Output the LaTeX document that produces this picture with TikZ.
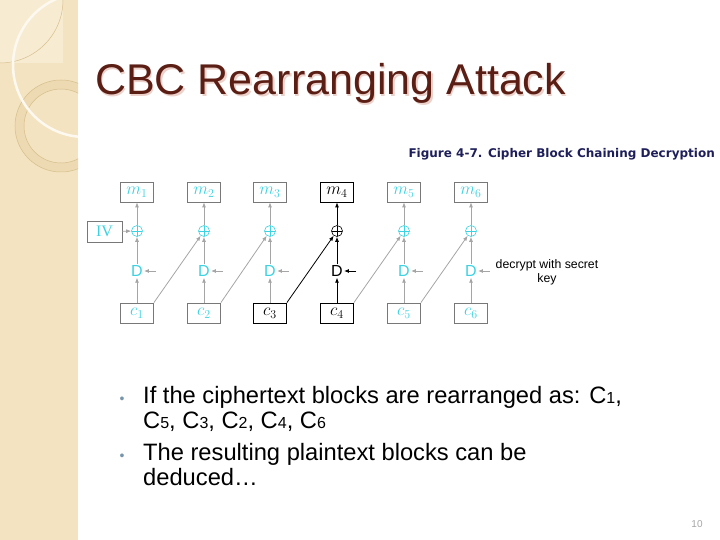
\documentclass[tikz,border=0pt]{standalone}
\usepackage{fontspec}
\setmainfont{Liberation Sans}
\newfontfamily\capfont{DejaVu Sans}
\newfontfamily\ivfont{Liberation Serif}
\usetikzlibrary{arrows.meta}
\definecolor{strip}{RGB}{243,227,192}
\definecolor{stripdark}{RGB}{237,218,178}
\definecolor{striplite}{RGB}{247,236,210}
\definecolor{ringline}{RGB}{214,190,140}
\definecolor{titlebrown}{RGB}{90,30,20}
\definecolor{titleshade}{RGB}{236,208,202}
\definecolor{capnavy}{RGB}{30,30,90}
\definecolor{lblue}{RGB}{60,210,225}
\definecolor{boxgrey}{RGB}{120,120,120}
\definecolor{arrgrey}{RGB}{165,165,165}
\definecolor{dotblue}{RGB}{120,150,170}
\newcommand{\smalldig}[1]{{\fontsize{16}{16}\selectfont #1}}
\newcommand{\titletext}{CBC Rearranging Attack}
\tikzstyle{block}=[rectangle,minimum width=33pt,minimum height=20pt,inner sep=0pt,line width=0.8pt,font=\fontsize{17.28}{17.28}\selectfont]
\tikzstyle{litebox}=[block,draw=boxgrey,text=lblue]
\tikzstyle{darkbox}=[block,draw=black,text=black]
\tikzstyle{xor}=[circle,draw,inner sep=0pt,minimum size=11pt,line width=0.6pt,
  path picture={\draw[line width=0.6pt] (path picture bounding box.north) -- (path picture bounding box.south)
    (path picture bounding box.west) -- (path picture bounding box.east);}]
\tikzstyle{dec}=[inner sep=1pt,font=\fontsize{16}{16}\selectfont]
\tikzstyle{edge}=[draw,line width=0.8pt,-{Latex[length=5pt,width=4pt]}]
\tikzstyle{bullettext}=[anchor=base west,inner sep=0pt,font=\fontsize{23.7}{23.7}\selectfont]
\tikzstyle{dot}=[anchor=base,inner sep=0pt,text=dotblue,font=\fontsize{14}{14}\selectfont]

\begin{document}
\begin{tikzpicture}[x=1pt,y=-1pt]
\useasboundingbox (0,0) rectangle (720,540);

% left strip
\fill[strip] (0,0) rectangle (78,540);
\begin{scope}
  \clip (0,0) rectangle (78,540);
  \fill[striplite] (0,0) rectangle (63,63);
  \draw[ringline,line width=0.5pt] (63,0) arc[start angle=0,end angle=-90,radius=63pt];
  \fill[stripdark,even odd rule] (61,126) circle[radius=46pt] (61,126) circle[radius=37pt];
  \draw[ringline,line width=0.5pt] (61,126) circle[radius=46pt] (61,126) circle[radius=37pt];
  \draw[white!70!striplite,line width=2.5pt] (85,65) circle[radius=72pt];
\end{scope}

% title with its shade
\node[anchor=base west,inner sep=0pt,text=titlebrown,font=\fontsize{43}{43}\selectfont] (title) at (95,95)
  {\makebox[0pt][l]{\raisebox{-1.5pt}[0pt][0pt]{\hspace{1.5pt}\color{titleshade}\titletext}}\titletext};

% figure caption
\node[anchor=base east,inner sep=0pt,text=capnavy,font=\capfont\bfseries\fontsize{12}{12}\selectfont] (cap) at (715,158) {Figure 4-7. Cipher Block Chaining Decryption};

% blocks
\foreach \x/\i/\sty in {137/1/litebox,204/2/litebox,270/3/litebox,337/4/darkbox,404/5/litebox,471/6/litebox}
  \node[\sty] (m\i) at (\x,192) {$m_{\i}$};

\foreach \x/\i/\col in {137/1/lblue,204/2/lblue,270/3/lblue,337/4/black,404/5/lblue,471/6/lblue}
  \node[xor,draw=\col] (x\i) at (\x,231) {};

\foreach \x/\i/\col in {137/1/lblue,204/2/lblue,270/3/lblue,337/4/black,404/5/lblue,471/6/lblue} {
  \node[dec,text=\col] (d\i) at (\x,271) {D};
  \coordinate (k\i) at (\x+19,271);
}

\foreach \x/\i/\sty in {137/1/litebox,204/2/litebox,270/3/darkbox,337/4/darkbox,404/5/litebox,471/6/litebox}
  \node[\sty] (c\i) at (\x,313) {$c_{\i}$};

\node[litebox,minimum width=35pt,minimum height=21pt,font=\ivfont\fontsize{16}{16}\selectfont] (IV) at (104.5,231.5) {IV};

% Connect blocks with edges
\foreach \i/\col in {1/arrgrey,2/arrgrey,3/arrgrey,4/black,5/arrgrey,6/arrgrey} {
  \path[edge,\col] (c\i) -- (d\i);
  \path[edge,\col] (d\i) -- (x\i);
  \path[edge,\col] (x\i) -- (m\i);
  \path[edge,\col] (k\i) -- (d\i);
}

\foreach \source/\dest/\col in {c1/x2/arrgrey,c2/x3/arrgrey,c3/x4/black,c4/x5/arrgrey,c5/x6/arrgrey}
  \path[edge,\col] (\source.north east) -- (\dest);

\path[edge,arrgrey] (IV) -- (x1);

\node[align=center,inner sep=0pt,font=\fontsize{12.3}{14}\selectfont] (key) at (547,272) {decrypt with secret\\key};

% bullets
\node[dot] (dot1) at (122,403) {\textbullet};
\node[bullettext] (b1) at (143,403) {If the ciphertext blocks are rearranged as: C\smalldig{1},};
\node[bullettext] (b2) at (143,428) {C\smalldig{5}, C\smalldig{3}, C\smalldig{2}, C\smalldig{4}, C\smalldig{6}};
\node[dot] (dot2) at (122,460) {\textbullet};
\node[bullettext] (b3) at (143,460) {The resulting plaintext blocks can be};
\node[bullettext] (b4) at (143,485) {deduced\ldots};

\node[anchor=base,inner sep=0pt,text=arrgrey,font=\fontsize{10}{10}\selectfont] (page) at (697,527) {10};

\end{tikzpicture}
\end{document}
